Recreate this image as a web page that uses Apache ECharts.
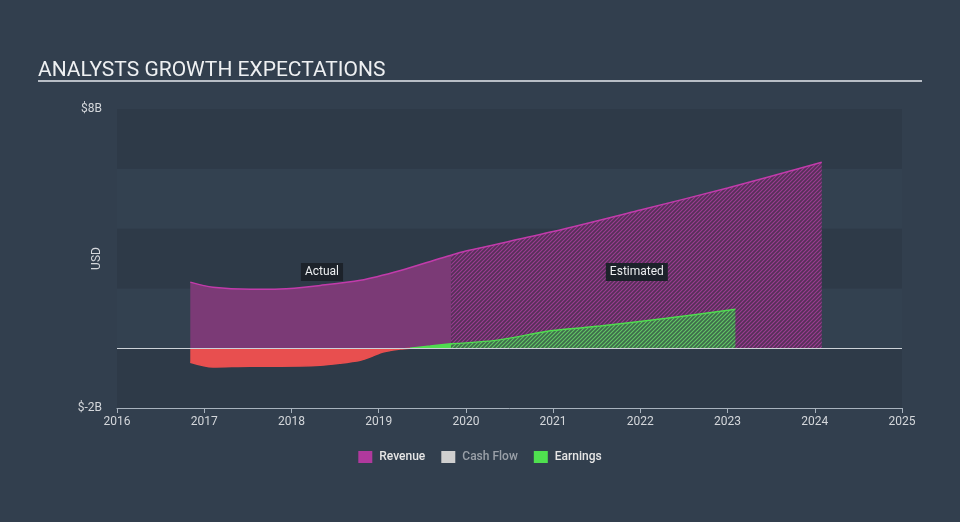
<!DOCTYPE html>
<html>
<head>
<meta charset="utf-8">
<script src="https://cdn.jsdelivr.net/npm/echarts@6/dist/echarts.min.js"></script>
<style>
html,body{margin:0;padding:0;background:#323f4e;}
#chart{width:960px;height:522px;}
</style>
</head>
<body>
<div id="chart"></div>
<script>
// ---- data (years as fractional values, amounts in USD billions) ----
const revenueActualX = [2016.84, 2017.10, 2017.53, 2017.87, 2018.33, 2018.79, 2019.25, 2019.70, 2019.83];
const revenueActualY = [2.21, 2.04, 1.97, 1.98, 2.10, 2.27, 2.60, 3.00, 3.11];
const revenueEstX = [2019.83, 2020.00, 2021.00, 2022.00, 2023.00, 2024.08];
const revenueEstY = [3.11, 3.25, 3.90, 4.62, 5.36, 6.22];
const earningsLossX = [2016.84, 2017.10, 2017.53, 2017.87, 2018.33, 2018.56, 2018.79, 2018.90, 2019.02, 2019.13, 2019.25, 2019.36];
const earningsLossY = [-0.47, -0.63, -0.60, -0.60, -0.57, -0.50, -0.40, -0.30, -0.15, -0.08, -0.03, 0.00];
const earningsGainX = [2019.36, 2019.59, 2019.83];
const earningsGainY = [0.00, 0.07, 0.15];
const earningsEstX = [2019.83, 2020.36, 2020.97, 2021.54, 2022.30, 2023.09];
const earningsEstY = [0.15, 0.27, 0.58, 0.74, 1.00, 1.30];
const xTicks = [2016, 2017, 2018, 2019, 2020, 2021, 2022, 2023, 2024, 2025];
const yTickLabels = {"8": "$8B", "-2": "$-2B"};
const legendNames = ["Revenue", "Cash Flow", "Earnings"];

function pairs(xs, ys){ return xs.map((x,i)=>[x, ys[i]]); }

function hatch(bg, fg){
  const c = document.createElement('canvas');
  c.width = 4; c.height = 4;
  const ctx = c.getContext('2d');
  ctx.fillStyle = bg; ctx.fillRect(0,0,4,4);
  ctx.strokeStyle = fg; ctx.lineWidth = 1.1;
  ctx.beginPath();
  ctx.moveTo(0,4); ctx.lineTo(4,0);
  ctx.moveTo(-1,1); ctx.lineTo(1,-1);
  ctx.moveTo(3,5); ctx.lineTo(5,3);
  ctx.stroke();
  return {image: c, repeat: 'repeat'};
}

const FONT = 'Roboto, "Open Sans", sans-serif';
const chart = echarts.init(document.getElementById('chart'), null, {renderer:'canvas'});

const option = {
  backgroundColor: '#323f4e',
  animation: false,
  title: {
    text: 'ANALYSTS GROWTH EXPECTATIONS',
    left: 33, top: 55,
    textStyle: {color: '#eef0f2', fontSize: 21, fontWeight: 'normal', fontFamily: FONT}
  },
  graphic: [{
    type: 'rect', shape: {x: 38, y: 80, width: 884, height: 2},
    style: {fill: '#b8bec6'}, silent: true
  }],
  grid: {left: 117, right: 58, top: 109, bottom: 114},
  legend: {
    bottom: 54, left: 'center',
    itemWidth: 14, itemHeight: 12, itemGap: 16,
    textStyle: {color: '#e6e6e6', fontSize: 12, fontFamily: FONT, fontWeight: 500, padding: [0, 0, 0, 2]},
    selectedMode: false,
    data: [
      {name: legendNames[0], icon: 'rect', itemStyle: {color: '#b0399d'}},
      {name: legendNames[1], icon: 'rect', itemStyle: {color: '#cfcfcf'}, textStyle: {color: '#9aa0a8'}},
      {name: legendNames[2], icon: 'rect', itemStyle: {color: '#4fe04f'}}
    ]
  },
  xAxis: {
    type: 'value', min: xTicks[0], max: xTicks[xTicks.length-1], interval: 1,
    axisLine: {show: true, onZero: false, lineStyle: {color: '#a8b2bd', width: 1}},
    axisTick: {show: true, length: 5, lineStyle: {color: '#a8b2bd'}},
    axisLabel: {color: '#d4d7db', fontSize: 12, margin: 8, fontFamily: FONT, formatter: v => String(v)},
    splitLine: {show: false}
  },
  yAxis: {
    type: 'value', min: -2, max: 8, interval: 2,
    name: 'USD', nameLocation: 'middle', nameGap: 14, nameRotate: 90, nameMoveOverlap: false,
    nameTextStyle: {color: '#d4d7db', fontSize: 12, fontFamily: FONT},
    axisLine: {show: false}, axisTick: {show: false},
    axisLabel: {color: '#d4d7db', fontSize: 12, margin: 15, fontFamily: FONT,
      formatter: v => yTickLabels[String(v)] || ''},
    splitLine: {show: false},
    splitArea: {show: true, areaStyle: {color: ['#2e3a48', '#334150']}}
  },
  series: [
    {
      name: 'Revenue', type: 'line', data: pairs(revenueActualX, revenueActualY),
      smooth: 0.3, symbol: 'none', z: 2,
      lineStyle: {color: '#c23bab', width: 1.5},
      itemStyle: {color: '#b0399d'},
      areaStyle: {color: '#7b3a76', opacity: 1},
      markLine: {
        silent: true, symbol: 'none', label: {show: false},
        lineStyle: {color: '#cdd2d8', width: 1, type: 'solid'},
        data: [{yAxis: 0}]
      },
      markPoint: {
        symbol: 'rect', symbolSize: 0, silent: true,
        label: {show: true, position: 'inside', color: '#eceef0', fontSize: 12, fontFamily: FONT,
          backgroundColor: '#1c222a', padding: [3, 4, 3, 4]},
        data: [
          {coord: [2018.35, 2.55], value: 'Actual', label: {formatter: 'Actual'}},
          {coord: [2021.96, 2.55], value: 'Estimated', label: {formatter: 'Estimated'}}
        ]
      }
    },
    {
      name: 'Revenue', type: 'line', data: pairs(revenueEstX, revenueEstY),
      smooth: 0.3, symbol: 'none', z: 2,
      lineStyle: {color: '#c23bab', width: 1.5},
      itemStyle: {color: '#b0399d'},
      areaStyle: {color: hatch('#553058', '#9c3c93'), opacity: 1}
    },
    {
      name: 'Earnings', type: 'line', data: pairs(earningsLossX, earningsLossY),
      smooth: 0.3, symbol: 'none', z: 3,
      lineStyle: {color: '#e84f4f', width: 1.5},
      itemStyle: {color: '#e84f4f'},
      areaStyle: {color: '#e84f4f', opacity: 1}
    },
    {
      name: 'Earnings', type: 'line', data: pairs(earningsGainX, earningsGainY),
      smooth: 0.3, symbol: 'none', z: 3,
      lineStyle: {color: '#4fdc4f', width: 1.5},
      itemStyle: {color: '#4fdc4f'},
      areaStyle: {color: '#4fdc4f', opacity: 1}
    },
    {
      name: 'Earnings', type: 'line', data: pairs(earningsEstX, earningsEstY),
      smooth: 0.3, symbol: 'none', z: 3,
      lineStyle: {color: '#4fdc4f', width: 1.5},
      itemStyle: {color: '#4fe04f'},
      areaStyle: {color: hatch('#3f6a4c', '#62c865'), opacity: 1}
    },
    {
      name: 'Cash Flow', type: 'line', data: [], symbol: 'none',
      itemStyle: {color: '#cfcfcf'}
    }
  ]
};
chart.setOption(option);
</script>
</body>
</html>
